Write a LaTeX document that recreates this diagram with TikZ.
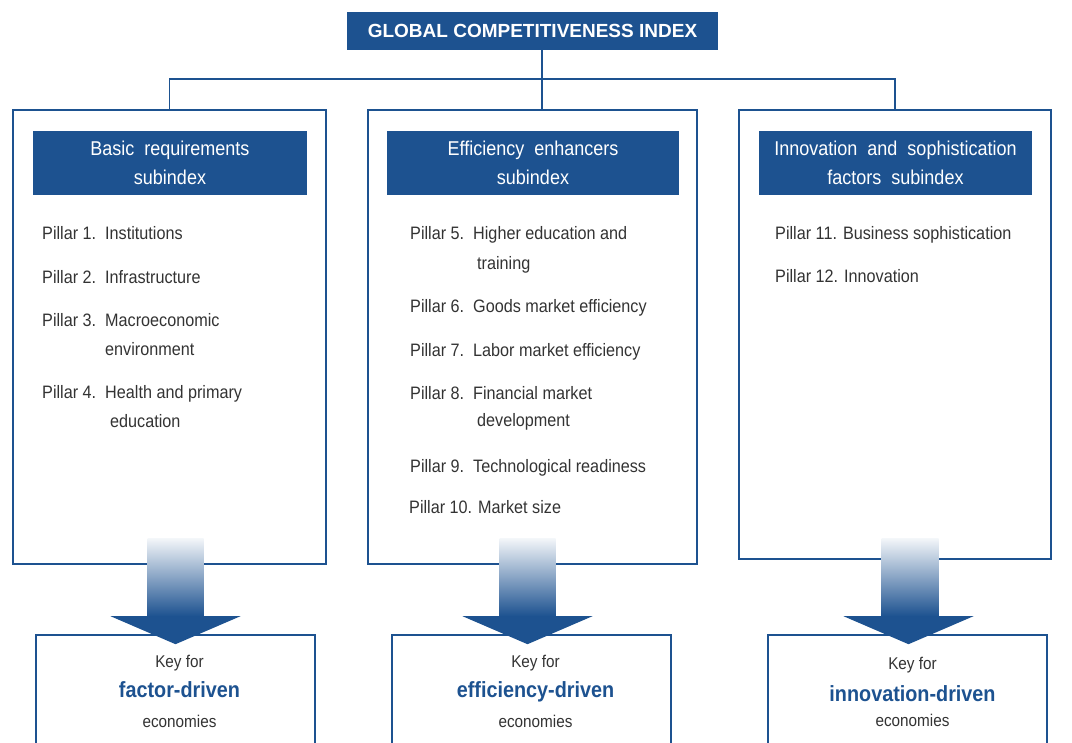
\documentclass[tikz,border=0pt]{standalone}
\usepackage{fontspec}
\setmainfont{Liberation Sans}
\newfontfamily\narrowfont[FakeStretch=0.9]{Liberation Sans}
\usetikzlibrary{calc}
\definecolor{gciblue}{RGB}{29,82,144}
\definecolor{gcitext}{RGB}{51,51,51}
\tikzset{
  subbox/.style={draw=gciblue,line width=1.6pt,minimum height=454pt,inner sep=0pt},
  headbox/.style={fill=gciblue,text=white,minimum height=64pt,inner sep=0pt,align=center,font=\narrowfont\fontsize{20}{29}\selectfont},
  keybox/.style={draw=gciblue,line width=1.6pt,minimum width=279pt,minimum height=130pt,inner sep=0pt},
  pillar/.style={anchor=base west,inner sep=0pt,text=gcitext,font=\narrowfont\fontsize{18}{22}\selectfont},
  keytext/.style={anchor=base,inner sep=0pt,text=gcitext,font=\narrowfont\fontsize{17}{20}\selectfont},
  keybold/.style={anchor=base,inner sep=0pt,text=gciblue,font=\narrowfont\bfseries\fontsize{22}{26}\selectfont},
  link/.style={draw=gciblue,line width=1.5pt}
}
\begin{document}
\begin{tikzpicture}[x=1pt,y=-1pt]
\useasboundingbox (0,0) rectangle (1072,743);
\clip (0,0) rectangle (1072,743);
\node[fill=gciblue,text=white,minimum width=371pt,minimum height=38pt,font=\bfseries\fontsize{19}{22}\selectfont] (gci) at (532.5,31) {GLOBAL COMPETITIVENESS INDEX};
\node[subbox,minimum width=313pt] (sub1) at (169.5,337) {};
\node[subbox,minimum width=329pt] (sub2) at (532.5,337) {};
\node[subbox,minimum width=312pt,minimum height=449pt] (sub3) at (895,334.5) {};
\coordinate (hub) at (542,79);
\draw[link] (gci.south -| hub) -- (sub2.north -| hub);
\draw[link] (sub1.north) |- (hub) -| (sub3.north);
\node[headbox,minimum width=274pt] (hd1) at (170,163) {Basic\ \ requirements\\subindex};
\node[headbox,minimum width=292pt] (hd2) at (533,163) {Efficiency\ \ enhancers\\subindex};
\node[headbox,minimum width=273pt] (hd3) at (895.5,163) {Innovation\ \ and\ \ sophistication\\factors\ \ subindex};
\node[pillar] (p1) at (42,240) {Pillar 1.\ \ Institutions};
\node[pillar] (p2) at (42,284) {Pillar 2.\ \ Infrastructure};
\node[pillar] (p3) at (42,327) {Pillar 3.\ \ Macroeconomic};
\node[pillar] (p3b) at (105,356) {environment};
\node[pillar] (p4) at (42,399) {Pillar 4.\ \ Health and primary};
\node[pillar] (p4b) at (110,428) {education};
\node[pillar] (p5) at (410,240) {Pillar 5.\ \ Higher education and};
\node[pillar] (p5b) at (477,270) {training};
\node[pillar] (p6) at (410,313) {Pillar 6.\ \ Goods market efficiency};
\node[pillar] (p7) at (410,357) {Pillar 7.\ \ Labor market efficiency};
\node[pillar] (p8) at (410,400) {Pillar 8.\ \ Financial market};
\node[pillar] (p8b) at (477,427) {development};
\node[pillar] (p9) at (410,472) {Pillar 9.\ \ Technological readiness};
\node[pillar] (p10) at (409,514) {Pillar 10. Market size};
\node[pillar] (p11) at (775,240) {Pillar 11. Business sophistication};
\node[pillar] (p12) at (775,283) {Pillar 12. Innovation};
\node[keybox] (key1) at (175.5,700) {};
\node[keybox] (key2) at (531.5,700) {};
\node[keybox] (key3) at (907.5,700) {};
\shade[top color=gciblue!5,bottom color=gciblue] ($(key1.north)+(-28,-96)$) rectangle ($(key1.north)+(28,-18)$);
\fill[gciblue] ($(key1.north)+(-65,-18)$) -- ($(key1.north)+(65,-18)$) -- ($(key1.north)+(0,10)$) -- cycle;
\shade[top color=gciblue!5,bottom color=gciblue] ($(key2.north)+(-32,-96)$) rectangle ($(key2.north)+(24,-18)$);
\fill[gciblue] ($(key2.north)+(-69,-18)$) -- ($(key2.north)+(61,-18)$) -- ($(key2.north)+(-4,10)$) -- cycle;
\shade[top color=gciblue!5,bottom color=gciblue] ($(key3.north)+(-26,-96)$) rectangle ($(key3.north)+(31,-18)$);
\fill[gciblue] ($(key3.north)+(-64,-18)$) -- ($(key3.north)+(66,-18)$) -- ($(key3.north)+(1,10)$) -- cycle;
\node[keytext] (kf1) at ($(key1.north)+(4,33)$) {Key for};
\node[keybold] (kd1) at ($(key1.north)+(4,63)$) {factor-driven};
\node[keytext] (ke1) at ($(key1.north)+(4,93)$) {economies};
\node[keytext] (kf2) at ($(key2.north)+(4,33)$) {Key for};
\node[keybold] (kd2) at ($(key2.north)+(4,63)$) {efficiency-driven};
\node[keytext] (ke2) at ($(key2.north)+(4,93)$) {economies};
\node[keytext] (kf3) at ($(key3.north)+(5,35)$) {Key for};
\node[keybold] (kd3) at ($(key3.north)+(5,67)$) {innovation-driven};
\node[keytext] (ke3) at ($(key3.north)+(5,92)$) {economies};
\end{tikzpicture}
\end{document}
